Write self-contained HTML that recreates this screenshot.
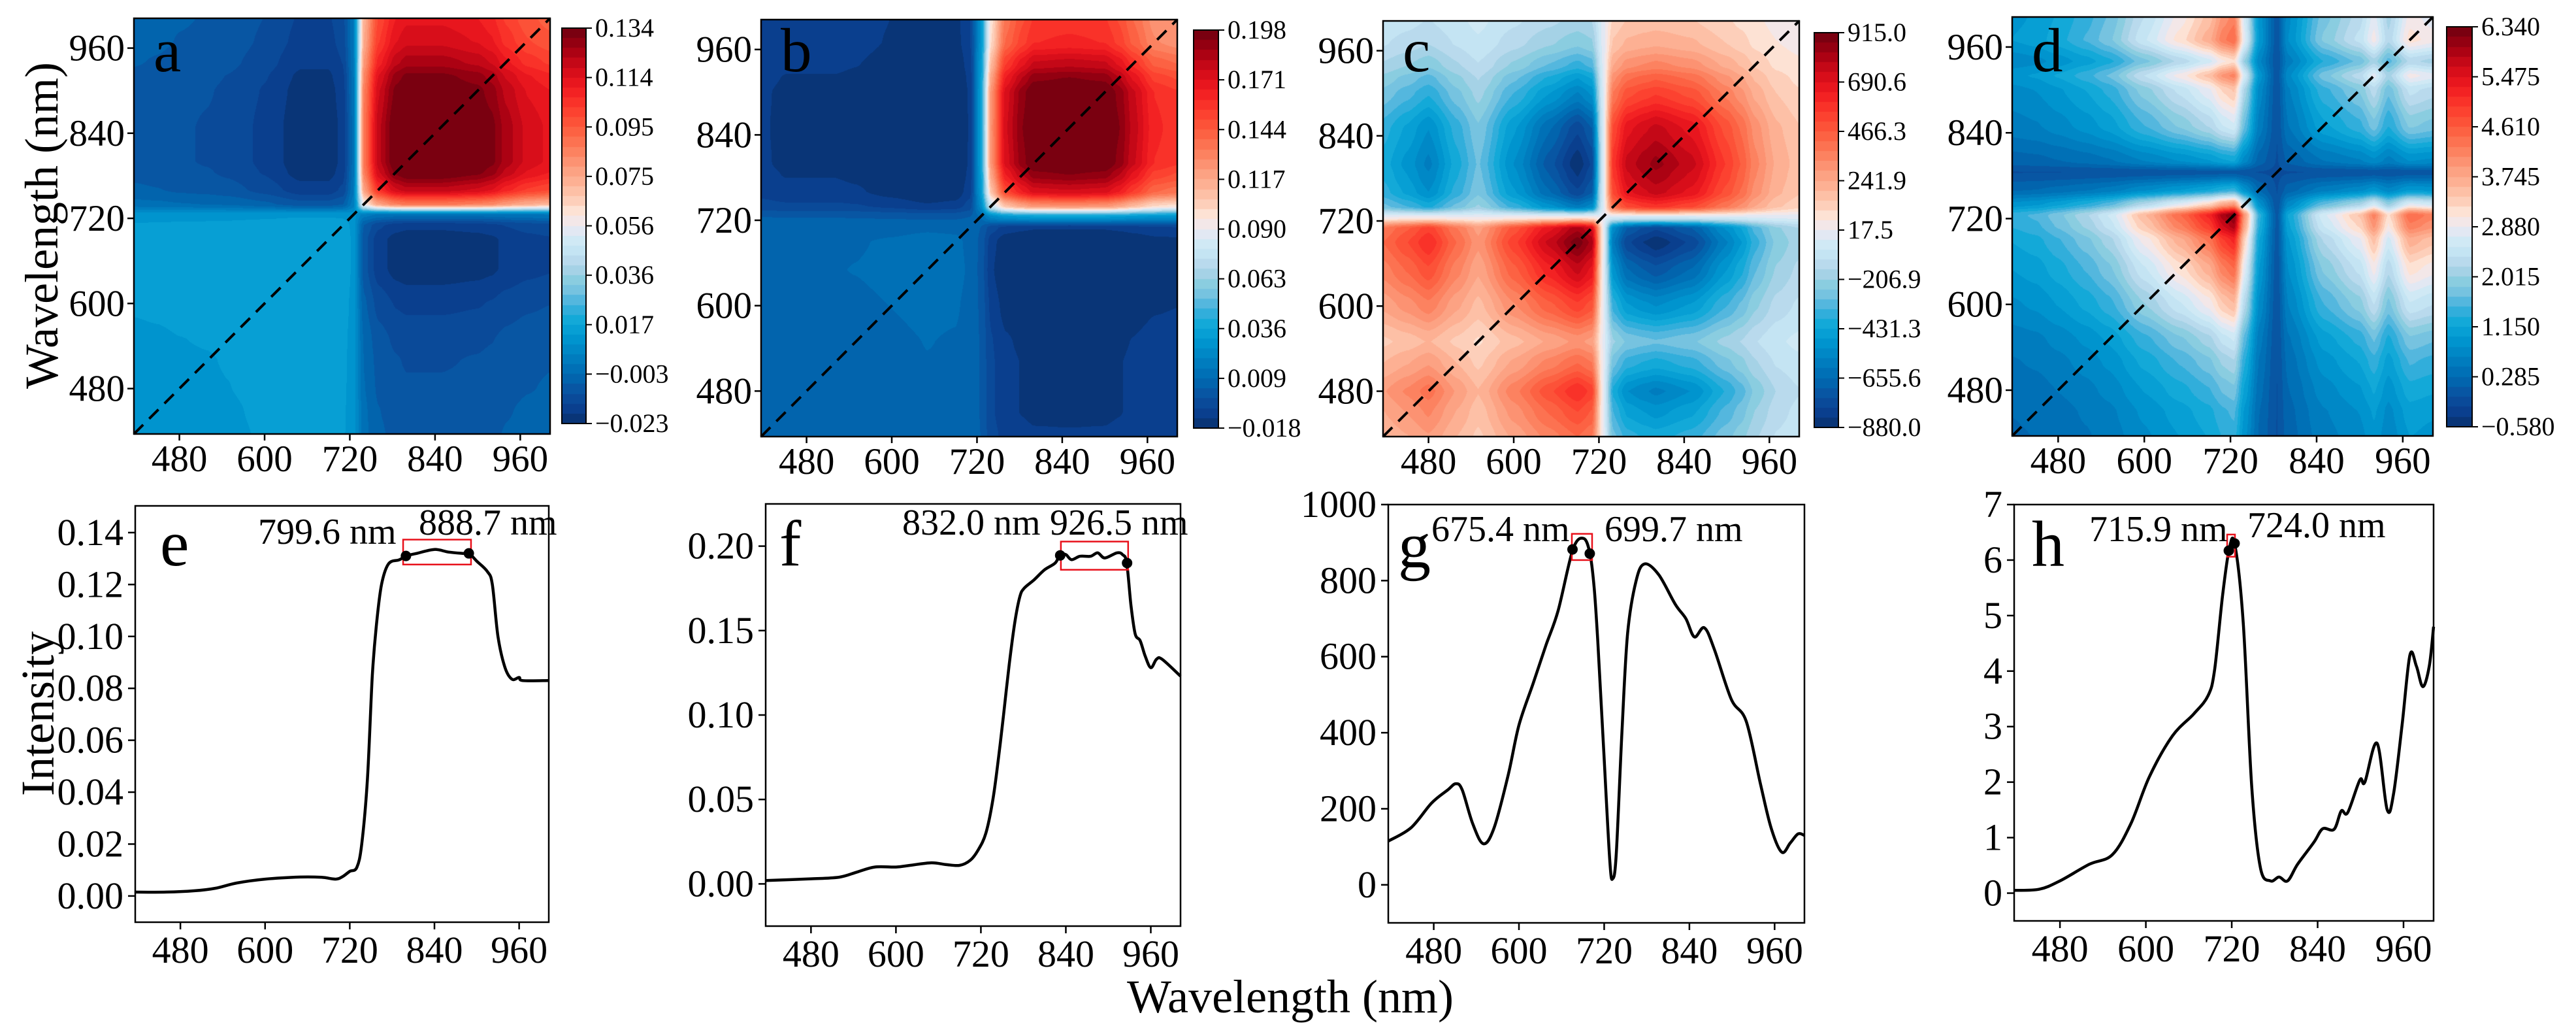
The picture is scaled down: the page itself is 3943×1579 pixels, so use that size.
<!DOCTYPE html>
<html><head><meta charset="utf-8">
<style>
html,body{margin:0;padding:0;background:#fff;}
#root{position:relative;width:3943px;height:1579px;overflow:hidden;background:#fff;}
canvas{position:absolute;}
svg{position:absolute;left:0;top:0;font-family:"Liberation Serif","DejaVu Serif",serif;}
svg text{font-family:"Liberation Serif","DejaVu Serif",serif;fill:#000;}
</style></head>
<body>
<div id="root">
<canvas id="hmA"></canvas>
<canvas id="hmB"></canvas>
<canvas id="hmC"></canvas>
<canvas id="hmD"></canvas>
<canvas id="cbA"></canvas>
<canvas id="cbB"></canvas>
<canvas id="cbC"></canvas>
<canvas id="cbD"></canvas>
<svg id="ov" width="3943" height="1579" font-family="Liberation Serif, serif"></svg>
</div>
<script>
// ---------- data ----------
const nodeWl = [415,450,480,520,550,600,650,690,710,725,740,760,785,800,850,900,920,940,970,1002];
const profileA = [-0.05,-0.052,-0.055,-0.057,-0.06,-0.07,-0.085,-0.085,-0.075,-0.03,0.22,0.31,0.35,0.36,0.36,0.35,0.34,0.32,0.30,0.29];
const profileB = [-0.04,-0.045,-0.045,-0.045,-0.047,-0.055,-0.065,-0.06,-0.04,0.06,0.27,0.38,0.42,0.44,0.445,0.44,0.42,0.39,0.35,0.34];
const profileC = [-14,-17,-20,-14,-10,-18,-25,-30,-27,-2,20,26,28,29,26,19,16,12,8,6];
const profileD = [0.6,0.65,0.75,0.9,1.05,1.45,1.8,2.1,2.4,2.52,1.6,0.6,0.05,0.5,1.1,1.4,1.7,1.3,1.8,1.7];
const offsets = [0.009,0.006,0,-0.1];
const cbTicksA = ["\u22120.023","\u22120.003","0.017","0.036","0.056","0.075","0.095","0.114","0.134"];
const cbTicksB = ["\u22120.018","0.009","0.036","0.063","0.090","0.117","0.144","0.171","0.198"];
const cbTicksC = ["\u2212880.0","\u2212655.6","\u2212431.3","\u2212206.9","17.5","241.9","466.3","690.6","915.0"];
const cbTicksD = ["\u22120.580","0.285","1.150","2.015","2.880","3.745","4.610","5.475","6.340"];
const cbRanges = [[-0.023,0.134],[-0.018,0.198],[-880,915],[-0.58,6.34]];
const xTicks = [480,600,720,840,960];

const wlE = [415,460,500,530,560,600,650,680,700,710,720,730,737,745,752,758,765,775,790,800,815,840,860,880,889,900,915,922,930,940,950,960,965,1002];
const intE = [0.0015,0.0015,0.002,0.003,0.005,0.0065,0.0073,0.0072,0.0065,0.0075,0.0095,0.011,0.02,0.045,0.085,0.105,0.12,0.128,0.1295,0.131,0.132,0.1335,0.1325,0.132,0.132,0.129,0.125,0.12,0.1,0.088,0.0835,0.0842,0.083,0.083];
const wlF = [416,480,520,545,570,600,620,650,670,690,705,716,727,737,745,752,760,768,775,781,795,810,825,832,840,848,860,875,885,895,912,920,926,932,938,945,952,960,968,976,1002];
const intF = [0.002,0.003,0.004,0.007,0.01,0.01,0.011,0.0125,0.0115,0.011,0.014,0.02,0.03,0.05,0.075,0.1,0.13,0.155,0.17,0.175,0.18,0.186,0.19,0.195,0.195,0.192,0.194,0.194,0.196,0.193,0.196,0.195,0.19,0.165,0.148,0.144,0.135,0.128,0.133,0.133,0.123];
const wlG = [416,448,477,500,511,520,535,550,565,585,600,620,638,655,676,691,700,706,711,720,728,732,737,745,753,765,777,797,820,835,847,861,875,899,920,940,955,970,982,993,1002];
const intG = [115,150,215,250,266,250,160,108,150,290,420,530,630,720,882,911,871,780,640,330,60,16,80,400,661,800,844,815,738,700,652,676,620,488,430,266,150,86,110,134,130];
const wlH = [416,451,480,521,553,579,605,637,667,687,696,707,716,724,736,748,760,774,786,798,812,835,847,863,873,882,899,906,923,937,946,958,969,978,987,996,1002];
const intH = [0.05,0.07,0.22,0.52,0.69,1.25,2.1,2.83,3.23,3.56,4.02,5.34,6.17,6.3,4.88,1.91,0.46,0.22,0.29,0.22,0.52,0.92,1.16,1.15,1.48,1.45,2.04,2.0,2.7,1.51,1.78,3.03,4.29,4.09,3.72,4.09,4.8];
const peaksE = [[799.6,0.131],[888.7,0.132]];
const peaksF = [[832.0,0.1945],[926.5,0.19]];
const peaksG = [[675.4,882],[699.7,871]];
const peaksH = [[715.9,6.17],[724.0,6.3]];
const yTicksE = [0,0.02,0.04,0.06,0.08,0.10,0.12,0.14];
const yTicksF = [0,0.05,0.10,0.15,0.20];
const yTicksG = [0,200,400,600,800,1000];
const yTicksH = [0,1,2,3,4,5,6,7];

// ---------- colormap ----------
const cmStops = [[0,"#08306b"],[0.04,"#0a4090"],[0.08,"#0a52a0"],[0.12,"#0068b0"],[0.17,"#0080c0"],[0.22,"#0098d0"],[0.26,"#10a8d8"],[0.30,"#40b0dc"],[0.33,"#70c0e0"],[0.37,"#90d0e0"],[0.40,"#b4d4ea"],[0.43,"#c0e2f2"],[0.47,"#d4eaf6"],[0.50,"#ece6f0"],[0.53,"#fde8dc"],[0.56,"#fdd0bc"],[0.60,"#fdb89c"],[0.65,"#fc9a7a"],[0.70,"#fc7a58"],[0.75,"#fc5a3c"],[0.80,"#fc3a2c"],[0.85,"#f01a20"],[0.90,"#d00a18"],[0.95,"#a00012"],[1,"#6e0010"]];
function hex(h){return [parseInt(h.substr(1,2),16),parseInt(h.substr(3,2),16),parseInt(h.substr(5,2),16)];}
function cmap(t){
  t=Math.max(0,Math.min(1,t));
  for(let i=1;i<cmStops.length;i++){
    if(t<=cmStops[i][0]){const a=cmStops[i-1],b=cmStops[i];const f=(t-a[0])/(b[0]-a[0]);
      const ca=hex(a[1]),cb=hex(b[1]);return [0,1,2].map(k=>Math.round(ca[k]+(cb[k]-ca[k])*f));}
  }
  return hex(cmStops[cmStops.length-1][1]);
}
const NLEV=40;
function levelColor(z,lo,hi){let i=Math.floor((z-lo)/(hi-lo)*NLEV);i=Math.max(0,Math.min(NLEV-1,i));return cmap((i+0.5)/NLEV);}
function interp(xs,ys,x){
  if(x<=xs[0])return ys[0];
  for(let i=1;i<xs.length;i++){if(x<=xs[i]){const f=(x-xs[i-1])/(xs[i]-xs[i-1]);const s=f*f*(3-2*f);return ys[i-1]+(ys[i]-ys[i-1])*(0.5*f+0.5*s);}}
  return ys[ys.length-1];
}

const LO=416,HI=1002;
const NS="http://www.w3.org/2000/svg";
const ov=document.getElementById('ov');
function el(tag,attrs,parent){const e=document.createElementNS(NS,tag);for(const k in attrs)e.setAttribute(k,attrs[k]);(parent||ov).appendChild(e);return e;}
function txt(s,attrs){attrs['font-family']='Liberation Serif, serif';const e=el('text',attrs);e.textContent=s;return e;}

// ---------- heatmaps ----------
const heatPanels=[
 {id:'hmA',cb:'cbA',x:205,y:28,w:637,h:636,prof:profileA,off:offsets[0],rng:cbRanges[0],cbx:860,cby:43,cbw:37,cbh:605,ticks:cbTicksA,letter:'a'},
 {id:'hmB',cb:'cbB',x:1165,y:30,w:637,h:638,prof:profileB,off:offsets[1],rng:cbRanges[1],cbx:1827,cby:46,cbw:38,cbh:609,ticks:cbTicksB,letter:'b'},
 {id:'hmC',cb:'cbC',x:2117,y:32,w:637,h:636,prof:profileC,off:offsets[2],rng:cbRanges[2],cbx:2777,cby:50,cbw:37,cbh:604,ticks:cbTicksC,letter:'c'},
 {id:'hmD',cb:'cbD',x:3080,y:26,w:644,h:641,prof:profileD,off:offsets[3],rng:cbRanges[3],cbx:3745,cby:41,cbw:39,cbh:612,ticks:cbTicksD,letter:'d'}
];
heatPanels.forEach((p,pi)=>{
  const c=document.getElementById(p.id);c.width=p.w;c.height=p.h;c.style.left=p.x+'px';c.style.top=p.y+'px';
  const ctx=c.getContext('2d');const img=ctx.createImageData(p.w,p.h);
  const ux=[],uy=[];
  for(let i=0;i<p.w;i++)ux.push(interp(nodeWl,p.prof,LO+(i+0.5)/p.w*(HI-LO)));
  for(let j=0;j<p.h;j++)uy.push(interp(nodeWl,p.prof,HI-(j+0.5)/p.h*(HI-LO)));
  for(let j=0;j<p.h;j++)for(let i=0;i<p.w;i++){
    const z=p.off+ux[i]*uy[j];const col=levelColor(z,p.rng[0],p.rng[1]);const k=(j*p.w+i)*4;
    img.data[k]=col[0];img.data[k+1]=col[1];img.data[k+2]=col[2];img.data[k+3]=255;}
  ctx.putImageData(img,0,0);
  const cb=document.getElementById(p.cb);cb.width=p.cbw;cb.height=p.cbh;cb.style.left=p.cbx+'px';cb.style.top=p.cby+'px';
  const cc=cb.getContext('2d');
  for(let j=0;j<p.cbh;j++){const z=p.rng[1]-(j+0.5)/p.cbh*(p.rng[1]-p.rng[0]);const col=levelColor(z,p.rng[0],p.rng[1]);cc.fillStyle=`rgb(${col[0]},${col[1]},${col[2]})`;cc.fillRect(0,j,p.cbw,1);}
  const g=el('g',{});
  
  
  const sx=v=>p.x+(v-LO)/(HI-LO)*p.w, sy=v=>p.y+p.h-(v-LO)/(HI-LO)*p.h;
  const diag=el('line',{x1:sx(LO),y1:sy(LO),x2:sx(HI),y2:sy(HI),stroke:'#000','stroke-width':4,'stroke-dasharray':'20,13'},g);
  
  
  el('rect',{x:p.x,y:p.y,width:p.w,height:p.h,fill:'none',stroke:'#000','stroke-width':2.5},g);
  xTicks.forEach(t=>{
    el('line',{x1:sx(t),y1:p.y+p.h,x2:sx(t),y2:p.y+p.h+10,stroke:'#000','stroke-width':2.5},g);
    const tx=txt(String(t),{x:sx(t),y:p.y+p.h+57,'font-size':57,'text-anchor':'middle'});
    
    
    el('line',{x1:p.x-10,y1:sy(t),x2:p.x,y2:sy(t),stroke:'#000','stroke-width':2.5},g);
    const ty=txt(String(t),{x:p.x-14,y:sy(t)+19,'font-size':57,'text-anchor':'end'});
    
    
  });
  el('rect',{x:p.cbx,y:p.cby,width:p.cbw,height:p.cbh,fill:'none',stroke:'#000','stroke-width':2},g);
  p.ticks.forEach((s,i)=>{
    const yy=p.cby+p.cbh-i/(p.ticks.length-1)*p.cbh;
    el('line',{x1:p.cbx+p.cbw,y1:yy,x2:p.cbx+p.cbw+9,y2:yy,stroke:'#000','stroke-width':2},g);
    const t=txt(s,{x:p.cbx+p.cbw+14,y:yy+13,'font-size':40});
    
    
  });
  const L=txt(p.letter,{x:p.x+30,y:109,'font-size':95});
  
  
});

// ---------- spectra ----------
function smoothPath(pts){
  let d='M'+pts[0][0].toFixed(1)+','+pts[0][1].toFixed(1);
  for(let i=0;i<pts.length-1;i++){
    const p0=pts[Math.max(0,i-1)],p1=pts[i],p2=pts[i+1],p3=pts[Math.min(pts.length-1,i+2)];
    const c1=[p1[0]+(p2[0]-p0[0])/6,p1[1]+(p2[1]-p0[1])/6],c2=[p2[0]-(p3[0]-p1[0])/6,p2[1]-(p3[1]-p1[1])/6];
    d+=`C${c1[0].toFixed(1)},${c1[1].toFixed(1)} ${c2[0].toFixed(1)},${c2[1].toFixed(1)} ${p2[0].toFixed(1)},${p2[1].toFixed(1)}`;
  }
  return d;
}
const specPanels=[
 {l:'e',x:207,y:774,w:633,h:637,ylo:-0.0101,yhi:0.1503,wl:wlE,v:intE,pk:peaksE,yt:yTicksE,fmt:v=>v.toFixed(2),box:[795.6,891.8,0.1277,0.1373],lab1:[395,832,'799.6 nm'],lab2:[641,818,'888.7 nm'],letter:[245,865]},
 {l:'f',x:1172,y:771,w:635,h:646,ylo:-0.025,yhi:0.225,wl:wlF,v:intF,pk:peaksF,yt:yTicksF,fmt:v=>v.toFixed(2),box:[833,928,0.186,0.2027],lab1:[1381,818,'832.0 nm'],lab2:[1607,818,'926.5 nm'],letter:[1193,865]},
 {l:'g',x:2125,y:772,w:637,h:640,ylo:-100,yhi:1000,wl:wlG,v:intG,pk:peaksG,yt:yTicksG,fmt:v=>String(v),box:[674.5,703,854,923],lab1:[2191,828,'675.4 nm'],lab2:[2456,828,'699.7 nm'],letter:[2140,868]},
 {l:'h',x:3083,y:772,w:642,h:637,ylo:-0.5,yhi:7,wl:wlH,v:intH,pk:peaksH,yt:yTicksH,fmt:v=>String(v),box:[713.6,724.5,6.06,6.46],lab1:[3198,828,'715.9 nm'],lab2:[3440,822,'724.0 nm'],letter:[3110,866]}
];
specPanels.forEach(p=>{
  const sx=v=>p.x+(v-LO)/(HI-LO)*p.w, sy=v=>p.y+p.h-(v-p.ylo)/(p.yhi-p.ylo)*p.h;
  const g=el('g',{});
  
  
  el('rect',{x:p.x,y:p.y,width:p.w,height:p.h,fill:'none',stroke:'#000','stroke-width':2.5},g);
  xTicks.forEach(t=>{
    el('line',{x1:sx(t),y1:p.y+p.h,x2:sx(t),y2:p.y+p.h+11,stroke:'#000','stroke-width':2.5},g);
    const tx=txt(String(t),{x:sx(t),y:p.y+p.h+62,'font-size':58,'text-anchor':'middle'});
    
    
  });
  p.yt.forEach(t=>{
    el('line',{x1:p.x-11,y1:sy(t),x2:p.x,y2:sy(t),stroke:'#000','stroke-width':2.5},g);
    const ty=txt(p.fmt(t),{x:p.x-18,y:sy(t)+19,'font-size':58,'text-anchor':'end'});
    
    
  });
  const pts=p.wl.map((w,i)=>[sx(w),sy(p.v[i])]);
  const ln=el('path',{d:smoothPath(pts),fill:'none',stroke:'#000','stroke-width':4.5,'stroke-linejoin':'round'},g);
  
  
  const bx=el('rect',{x:sx(p.box[0]),y:sy(p.box[3]),width:sx(p.box[1])-sx(p.box[0]),height:sy(p.box[2])-sy(p.box[3]),fill:'none',stroke:'#e8101a','stroke-width':2.5},g);
  
  
  p.pk.forEach(k=>{
    const c=el('circle',{cx:sx(k[0]),cy:sy(k[1]),r:8,fill:'#000'},g);
    
    
  });
  const a1=txt(p.lab1[2],{x:p.lab1[0],y:p.lab1[1],'font-size':56});
  
  
  const a2=txt(p.lab2[2],{x:p.lab2[0],y:p.lab2[1],'font-size':56});
  
  
  const L=txt(p.l,{x:p.letter[0],y:p.letter[1],'font-size':100});
  
  
});

const t1=txt('Wavelength (nm)',{x:1975,y:1549,'font-size':72,'text-anchor':'middle'});


const t2=txt('Wavelength (nm)',{x:0,y:0,'font-size':72,'text-anchor':'middle',transform:'translate(88,345) rotate(-90)'});


const t3=txt('Intensity',{x:0,y:0,'font-size':72,'text-anchor':'middle',transform:'translate(82,1092) rotate(-90)'});


</script>
</body></html>
